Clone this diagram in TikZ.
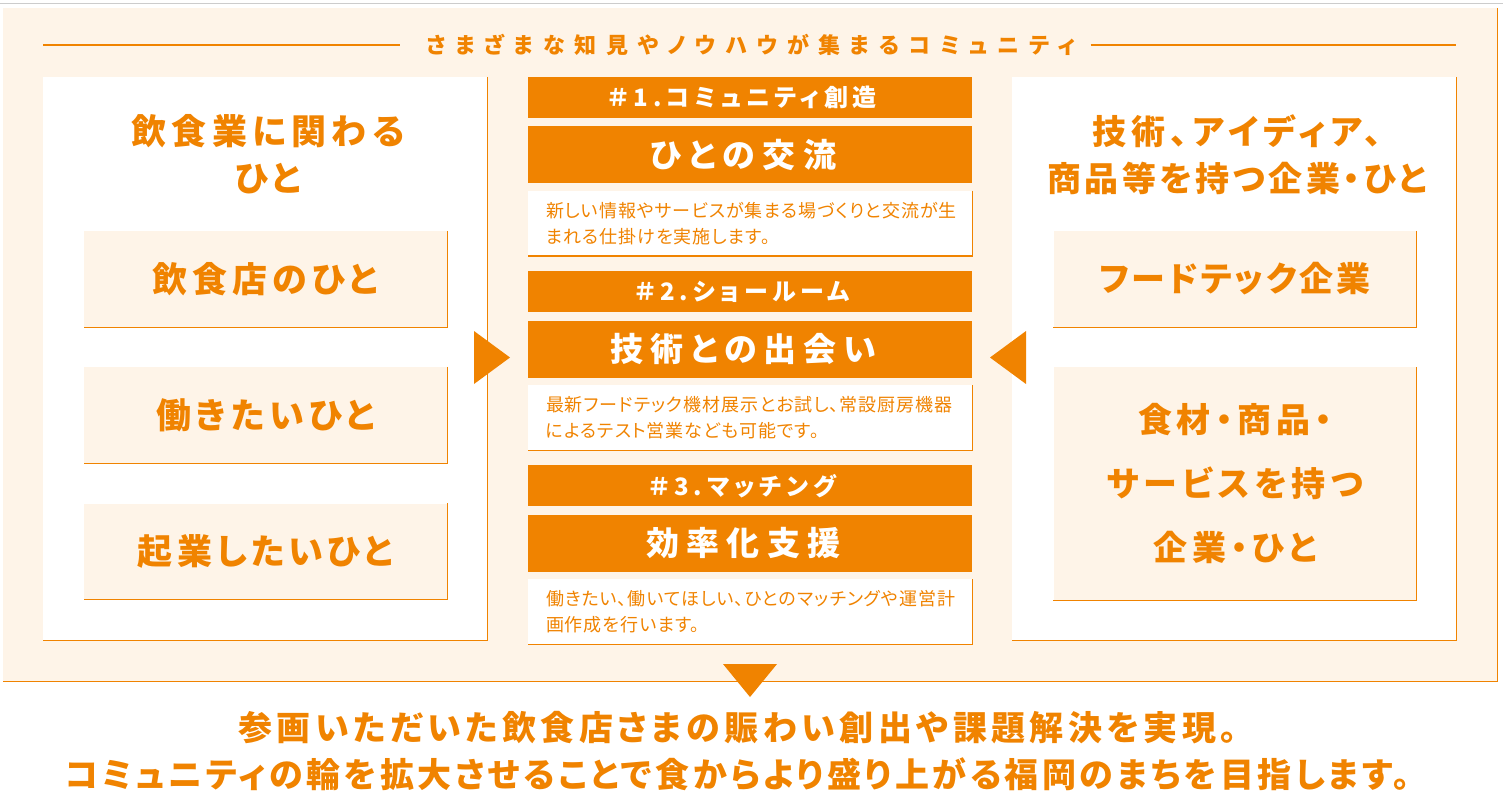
\documentclass[tikz,border=0pt]{standalone}
\usepackage{fontspec}
\newfontfamily\jp{Noto Sans CJK JP}[CharacterWidth=AlternateProportional]
\usetikzlibrary{positioning}
\definecolor{accent}{RGB}{240,131,0}
\definecolor{cream}{RGB}{254,244,232}
\definecolor{rulegray}{RGB}{204,204,204}
% size, leading, letter spacing (percent of size)
\newcommand\jpbold[3]{\jp\bfseries\fontsize{#1}{#2}\selectfont\addfontfeature{LetterSpace=#3}}
\newcommand\jplight[3]{\jp\fontsize{#1}{#2}\selectfont\addfontfeature{LetterSpace=#3}}
\newcommand\tracking[1]{\addfontfeature{LetterSpace=#1}}

\begin{document}
\begin{tikzpicture}[x=1pt,y=-1pt,
  panel/.style={fill=white,inner sep=0pt,minimum width=444pt,minimum height=563pt},
  whobox/.style={fill=cream,text=accent,inner sep=0pt,minimum width=363pt,minimum height=96pt,align=center},
  tagbar/.style={fill=accent,text=white,inner sep=0pt,minimum width=444pt,minimum height=41pt,font=\jpbold{24}{26}{20},execute at begin node={\kern-14pt}},
  titlebar/.style={fill=accent,text=white,inner sep=0pt,minimum width=444pt,minimum height=57pt,execute at begin node={\kern-13pt}},
  descbox/.style={fill=white,text=accent,inner xsep=18pt,inner ysep=0pt,text width=408pt,minimum height=65pt,align=left,font=\jplight{18}{26}{5.5}},
  rim/.style={draw=accent,line width=1.2pt}]
\useasboundingbox (0,0) rectangle (1503,804);
\draw[rulegray,line width=1pt] (0,3) -- (1503,3);

% community frame
\node[fill=cream,inner sep=0pt,minimum width=1494pt,minimum height=673pt] (frame) at (750,344.5) {};
\draw[rim] (frame.north east) -- (frame.south east) -- (frame.south west);
\node[text=accent,inner sep=0pt,font=\jpbold{22}{26}{43.5}] (heading) at (751,45) {さまざまな知見やノウハウが集まるコミュニティ};
\coordinate (hl) at (43,45);
\coordinate (hr) at (1456,45);
\draw[accent,line width=1.2pt] (hl) -- ([xshift=-26pt]heading.west);
\draw[accent,line width=1.2pt] ([xshift=15pt]heading.east) -- (hr);

% left: people in food service
\node[panel] (people) at (265,358.5) {};
\draw[rim] (people.north east) -- (people.south east) -- (people.south west);
\node[text=accent,align=center,font=\jpbold{35}{47}{15}] (peoplehead) at (268,154.5) {飲食業に関わる\\ひと};
\node[whobox,font=\jpbold{35}{40}{14}] (owner) at (265.5,279) {飲食店のひと};
\node[whobox,font=\jpbold{35}{40}{14}] (worker) at (265.5,415) {働きたいひと};
\node[whobox,font=\jpbold{35}{40}{12}] (founder) at (265.5,551.5) {起業したいひと};
\draw[rim] (owner.north east) -- (owner.south east) -- (owner.south west);
\draw[rim] (worker.north east) -- (worker.south east) -- (worker.south west);
\draw[rim] (founder.north east) -- (founder.south east) -- (founder.south west);

% right: companies with technology
\node[panel] (makers) at (1234,358.5) {};
\draw[rim] (makers.north east) -- (makers.south east) -- (makers.south west);
\node[text=accent,align=center,font=\jpbold{34}{47}{0}] (makerhead) at (1237,154.5)
  {{\tracking{15}技術、アイディア、}\\{\tracking{10}商品等を持つ企業・ひと}};
\node[whobox,font=\jpbold{34}{40}{8}] (foodtech) at (1235,279) {フードテック企業};
\node[whobox,minimum height=233pt,font=\jpbold{34}{64}{14}] (supplier) at (1235,483.5) {食材・商品・\\サービスを持つ\\企業・ひと};
\draw[rim] (foodtech.north east) -- (foodtech.south east) -- (foodtech.south west);
\draw[rim] (supplier.north east) -- (supplier.south east) -- (supplier.south west);

% middle: three activities
\node[tagbar] (tag1) at (750,97.5) {＃1.コミュニティ創造};
\node[titlebar,below=8pt of tag1,font=\jpbold{33}{40}{23}] (exchange) {ひとの交流};
\node[descbox,below=7pt of exchange] (desc1) {新しい情報やサービスが集まる場づくりと交流が生\\まれる仕掛けを実施します。};
\node[tagbar,below=15pt of desc1] (tag2) {＃2.ショールーム};
\node[titlebar,below=8pt of tag2,font=\jpbold{33}{40}{21}] (meeting) {技術との出会い};
\node[descbox,below=7pt of meeting] (desc2) {最新フードテック機材展示とお試し、常設厨房機器\\によるテスト営業なども可能です。};
\node[tagbar,below=15pt of desc2] (tag3) {＃3.マッチング};
\node[titlebar,below=8pt of tag3,font=\jpbold{33}{40}{22.5}] (support) {効率化支援};
\node[descbox,below=7pt of support] (desc3) {働きたい、働いてほしい、ひとのマッチングや運営計\\画作成を行います。};
\draw[rim] (desc1.north east) -- (desc1.south east) -- (desc1.south west);
\draw[rim] (desc2.north east) -- (desc2.south east) -- (desc2.south west);
\draw[rim] (desc3.north east) -- (desc3.south east) -- (desc3.south west);

% arrows
\fill[accent] (474,331) -- (510,357.5) -- (474,384) -- cycle;
\fill[accent] (1026,331) -- (990,357.5) -- (1026,384) -- cycle;
\fill[accent] (723,664) -- (777,664) -- (750,697) -- cycle;

% goal
\node[text=accent,align=center,font=\jpbold{34}{47}{0}] (goal) at (738,751.5)
  {{\tracking{13}参画いただいた飲食店さまの賑わい創出や課題解決を実現。}\\
   {\tracking{10.3}コミュニティの輪を拡大させることで食からより盛り上がる福岡のまちを目指します。}};
\end{tikzpicture}
\end{document}
